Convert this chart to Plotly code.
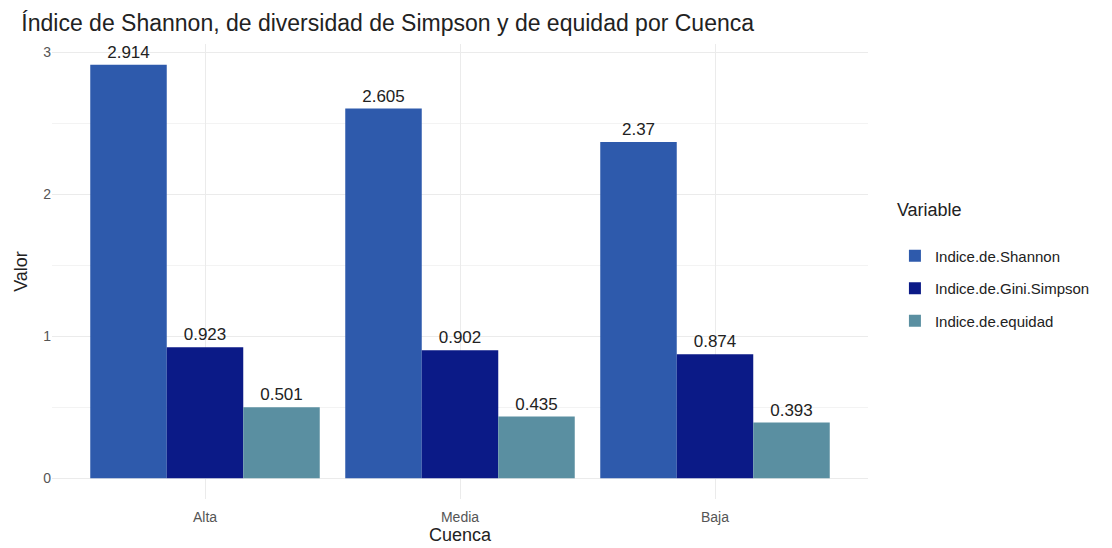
import plotly.graph_objects as go

cuencas = ["Alta", "Media", "Baja"]
shannon = [2.914, 2.605, 2.37]
gini_simpson = [0.923, 0.902, 0.874]
equidad = [0.501, 0.435, 0.393]

series = [
    ("Indice.de.Shannon", shannon, "#2E5AAC"),
    ("Indice.de.Gini.Simpson", gini_simpson, "#0B1A87"),
    ("Indice.de.equidad", equidad, "#5A8FA1"),
]

fig = go.Figure()
for name, vals, color in series:
    fig.add_trace(go.Bar(
        x=cuencas, y=vals, name=name, legendgroup=name,
        marker=dict(color=color, line=dict(width=0)),
        text=[f"{v:g}" for v in vals], textposition="outside",
        textfont=dict(size=17, color="#222222"), cliponaxis=False,
    ))

fig.update_layout(
    width=1112, height=548,
    barmode="group", bargap=0.1, bargroupgap=0,
    font=dict(family="Liberation Sans, Arial, sans-serif", color="#222222"),
    title=dict(text="Índice de Shannon, de diversidad de Simpson y de equidad por Cuenca",
               x=0.012, y=0.972, xanchor="left", yanchor="middle",
               font=dict(size=23, color="#222222")),
    plot_bgcolor="white", paper_bgcolor="white",
    margin=dict(l=44, r=252, t=36, b=57),
    legend=dict(title=dict(text="Variable<br><span style='font-size:4px'> </span>",
                           font=dict(size=18)),
                x=1.033, xanchor="left", y=0.673, yanchor="top",
                font=dict(size=15), itemsizing="constant", tracegroupgap=10),
)
fig.update_xaxes(title=dict(text="Cuenca", font=dict(size=18), standoff=4),
                 range=[-0.6, 2.6], showgrid=True, gridcolor="#EBEBEB",
                 tickfont=dict(size=14, color="#555555"), ticks="", showline=False,
                 ticklabelstandoff=8, zeroline=False)
fig.update_yaxes(title=dict(text="Valor", font=dict(size=18), standoff=10),
                 range=[-0.146, 3.06], tickvals=[0, 1, 2, 3],
                 showgrid=True, gridcolor="#EBEBEB",
                 minor=dict(tickvals=[0.5, 1.5, 2.5], showgrid=True, gridcolor="#F3F3F3"),
                 tickfont=dict(size=14, color="#555555"), zeroline=False, ticks="")

fig.write_html("out.html")
